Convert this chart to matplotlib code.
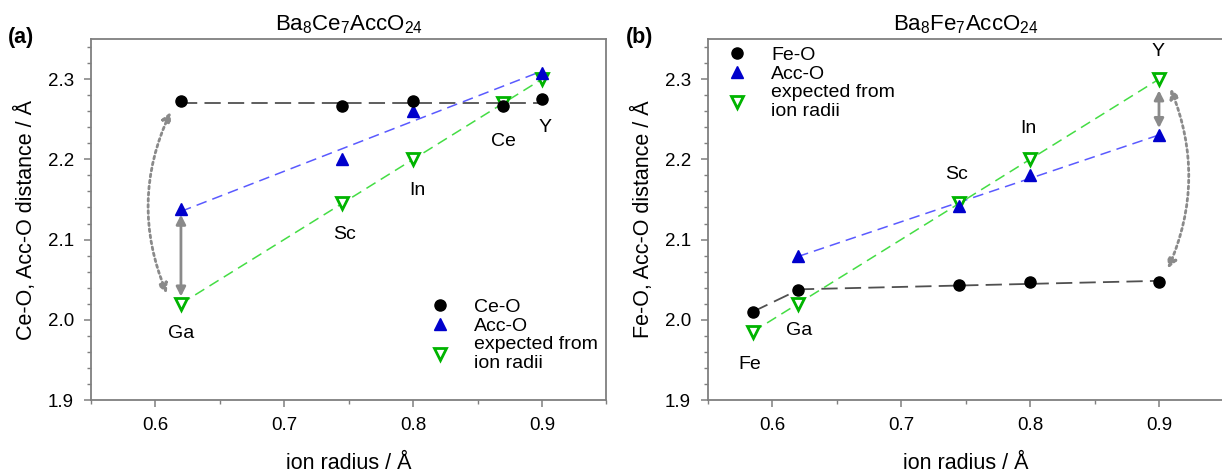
import numpy as np
import matplotlib
matplotlib.use("Agg")
import matplotlib.pyplot as plt

plt.rcParams['font.family'] = ['Liberation Sans', 'DejaVu Sans']
plt.rcParams['mathtext.fontset'] = 'custom'
plt.rcParams['mathtext.rm'] = 'Liberation Sans'

# ---------------- data: panel (a) Ba8Ce7AccO24 ----------------
a_ceo_x = [0.62, 0.745, 0.80, 0.87, 0.90]
a_ceo_y = [2.273, 2.266, 2.273, 2.266, 2.275]
a_acc_x = [0.62, 0.745, 0.80, 0.90]
a_acc_y = [2.138, 2.200, 2.260, 2.308]
a_exp_x = [0.62, 0.745, 0.80, 0.87, 0.90]
a_exp_y = [2.020, 2.145, 2.200, 2.270, 2.300]
a_lab_text = ['Ga', 'Sc', 'In', 'Ce', 'Y']
a_lab_x = [0.620, 0.747, 0.803, 0.870, 0.902]
a_lab_y = [1.983, 2.106, 2.161, 2.222, 2.240]

# ---------------- data: panel (b) Ba8Fe7AccO24 ----------------
b_feo_x = [0.585, 0.62, 0.745, 0.80, 0.90]
b_feo_y = [2.010, 2.037, 2.043, 2.047, 2.047]
b_acc_x = [0.62, 0.745, 0.80, 0.90]
b_acc_y = [2.080, 2.142, 2.180, 2.230]
b_exp_x = [0.585, 0.62, 0.745, 0.80, 0.90]
b_exp_y = [1.985, 2.020, 2.145, 2.200, 2.300]
b_lab_text = ['Fe', 'Ga', 'Sc', 'In', 'Y']
b_lab_x = [0.583, 0.621, 0.743, 0.799, 0.899]
b_lab_y = [1.944, 1.987, 2.181, 2.238, 2.334]

xticks = [0.6, 0.7, 0.8, 0.9]
yticks = [1.9, 2.0, 2.1, 2.2, 2.3]

SPINE = '#7f7f7f'
BLK_LINE = '#505050'
BLUE = '#0000cc'
BLUE_LINE = '#5a5aff'
GREEN = '#00b400'
GREEN_LINE = '#44dd44'
ARROW = '#8a8a8a'

fig = plt.figure(figsize=(12.22, 4.73), dpi=100)
axa = fig.add_axes([0.0742, 0.1543, 0.4221, 0.7632])
axb = fig.add_axes([0.5791, 0.1543, 0.4221, 0.7632])


def style(ax, ylabel):
    ax.set_xlim(0.55, 0.95)
    ax.set_ylim(1.9, 2.35)
    ax.set_xticks(xticks)
    ax.set_xticklabels([f'{v:.1f}' for v in xticks])
    ax.set_yticks(yticks)
    ax.set_yticklabels([f'{v:.1f}' for v in yticks])
    ax.set_xticks(np.arange(0.55, 0.951, 0.05), minor=True)
    ax.set_yticks(np.arange(1.9, 2.351, 0.02), minor=True)
    ax.tick_params(which='major', direction='out', length=5, width=1.1,
                   color=SPINE, labelsize=13.5, pad=7, top=False, right=False)
    ax.tick_params(which='minor', direction='out', length=3, width=1.0,
                   color=SPINE, top=False, right=False)
    for s in ax.spines.values():
        s.set_color(SPINE)
        s.set_linewidth(1.3)
    ax.set_xlabel('ion radius / Å', fontsize=15.5, labelpad=14)
    ax.set_ylabel(ylabel, fontsize=15.5, labelpad=8)


def markers(ax, cx, cy, ax_x, ax_y, ex_x, ex_y, lab_o):
    ax.plot(ex_x, ex_y, linestyle='none', marker='v', markersize=9,
            markerfacecolor='white', markeredgecolor=GREEN, markeredgewidth=2,
            label='expected from\nion radii', zorder=5)
    ax.plot(ax_x, ax_y, linestyle='none', marker='^', markersize=8.5,
            color=BLUE, label='Acc-O', zorder=6)
    ax.plot(cx, cy, linestyle='none', marker='o', markersize=8,
            color='black', label=lab_o, zorder=7)


def legend(ax, anchor):
    h, l = ax.get_legend_handles_labels()
    order = [2, 1, 0]
    ax.legend([h[i] for i in order], [l[i] for i in order], loc='upper left',
              bbox_to_anchor=anchor, bbox_transform=ax.transAxes,
              frameon=False, fontsize=14, handlelength=1.0, handletextpad=1.25,
              labelspacing=0.05, borderpad=0, borderaxespad=0)


def arrows(ax, solid_x, solid_y0, solid_y1, cur_a, cur_b, rad):
    ax.annotate('', xy=(solid_x, solid_y1), xytext=(solid_x, solid_y0),
                arrowprops=dict(arrowstyle='<|-|>,head_length=0.55,head_width=0.28',
                                color=ARROW, lw=2, shrinkA=0, shrinkB=0), zorder=4)
    ax.annotate('', xy=cur_b, xytext=cur_a,
                arrowprops=dict(arrowstyle='<|-|>,head_length=0.55,head_width=0.28',
                                color=ARROW, lw=2, ls=(0, (1, 1.2)), shrinkA=0, shrinkB=0,
                                connectionstyle=f'arc3,rad={rad}'), zorder=4)


# ---------------- panel (a) ----------------
style(axa, 'Ce-O, Acc-O distance / Å')
xa = np.array(a_ceo_x)
axa.plot([xa.min(), xa.max()], [np.mean(a_ceo_y)] * 2, color=BLK_LINE,
         lw=1.3, dashes=(9, 4), zorder=3)
pa = np.polyfit(a_acc_x, a_acc_y, 1)
xx = np.array([min(a_acc_x), max(a_acc_x)])
axa.plot(xx, np.polyval(pa, xx), color=BLUE_LINE, lw=1.1, dashes=(7, 4), zorder=3)
axa.plot(a_exp_x, a_exp_y, color=GREEN_LINE, lw=1.1, dashes=(7, 4), zorder=3)
markers(axa, a_ceo_x, a_ceo_y, a_acc_x, a_acc_y, a_exp_x, a_exp_y, 'Ce-O')
for t, x, y in zip(a_lab_text, a_lab_x, a_lab_y):
    axa.text(x, y, t, fontsize=14, ha='center', va='center')
arrows(axa, 0.62, 2.029, 2.131, (0.609, 2.033), (0.612, 2.259), -0.22)
legend(axa, (0.658, 0.281))
axa.set_title('Ba$_\\mathregular{8}$Ce$_\\mathregular{7}$AccO$_\\mathregular{24}$',
              fontsize=16, pad=6)
fig.text(8 / 1222, 1 - 38 / 473, '(a)', fontsize=15.5, fontweight='bold', va='center')

# ---------------- panel (b) ----------------
style(axb, 'Fe-O, Acc-O distance / Å')
axb.plot(b_feo_x[:2], b_feo_y[:2], color=BLK_LINE, lw=1.3, dashes=(9, 4), zorder=3)
pb0 = np.polyfit(b_feo_x[1:], b_feo_y[1:], 1)
xx = np.array([min(b_feo_x[1:]), max(b_feo_x[1:])])
axb.plot(xx, np.polyval(pb0, xx), color=BLK_LINE, lw=1.3, dashes=(9, 4), zorder=3)
pb = np.polyfit(b_acc_x, b_acc_y, 1)
xx = np.array([min(b_acc_x), max(b_acc_x)])
axb.plot(xx, np.polyval(pb, xx), color=BLUE_LINE, lw=1.1, dashes=(7, 4), zorder=3)
axb.plot(b_exp_x, b_exp_y, color=GREEN_LINE, lw=1.1, dashes=(7, 4), zorder=3)
markers(axb, b_feo_x, b_feo_y, b_acc_x, b_acc_y, b_exp_x, b_exp_y, 'Fe-O')
for t, x, y in zip(b_lab_text, b_lab_x, b_lab_y):
    axb.text(x, y, t, fontsize=14, ha='center', va='center')
arrows(axb, 0.90, 2.239, 2.286, (0.907, 2.064), (0.909, 2.288), 0.21)
legend(axb, (0.0387, 0.979))
axb.set_title('Ba$_\\mathregular{8}$Fe$_\\mathregular{7}$AccO$_\\mathregular{24}$',
              fontsize=16, pad=6)
fig.text(626 / 1222, 1 - 37 / 473, '(b)', fontsize=15.5, fontweight='bold', va='center')

fig.savefig('out.png', dpi=100)
